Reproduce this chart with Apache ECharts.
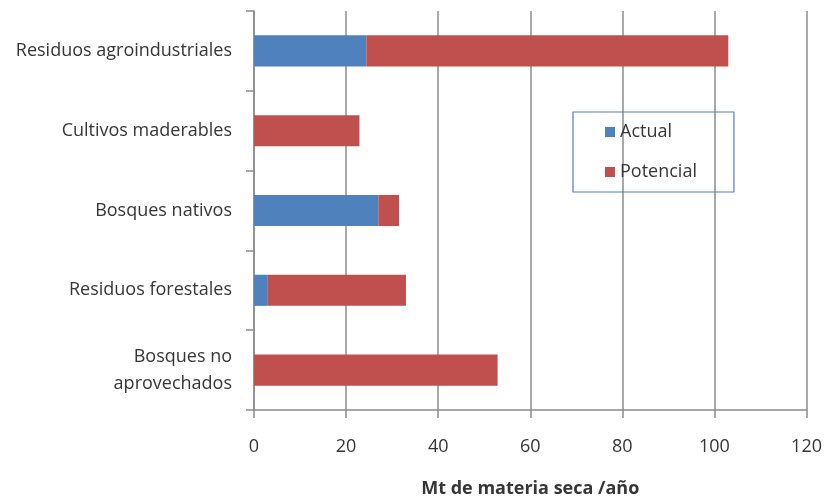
<!DOCTYPE html>
<html>
<head>
<meta charset="utf-8">
<script src="https://cdn.jsdelivr.net/npm/echarts@6/dist/echarts.min.js"></script>
<style>
  html, body { margin: 0; padding: 0; background: #ffffff; }
  #chart { width: 825px; height: 503px; }
</style>
</head>
<body>
<div id="chart"></div>
<script>
// datos (Mt de materia seca / año)
const categorias = [
  'Residuos agroindustriales',
  'Cultivos maderables',
  'Bosques nativos',
  'Residuos forestales',
  'Bosques no\naprovechados'
]
const actual = [24.4, 0, 27.0, 3.0, 0]
const potencial = [78.6, 22.9, 4.5, 30.0, 52.9]
const ejeX = { min: 0, max: 120, interval: 20 }

const fuente = 'Open Sans'
const gris = '#8c8c8c'
const texto = '#363636'

const chart = echarts.init(document.getElementById('chart'))

const option = {
  animation: false,
  textStyle: { fontFamily: fuente },
  grid: { left: 254, right: 15, top: 11, bottom: 92 },
  legend: {
    orient: 'vertical',
    left: 573,
    top: 112,
    borderColor: '#4F81BD',
    borderWidth: 1.2,
    padding: [10, 37, 10, 32],
    itemGap: 20,
    itemWidth: 10,
    itemHeight: 10,
    itemTextGap: 8,
    icon: 'rect',
    textStyle: { fontSize: 18, color: texto, lineHeight: 20, fontFamily: fuente },
    data: ['Actual', 'Potencial']
  },
  xAxis: {
    type: 'value',
    min: ejeX.min,
    max: ejeX.max,
    interval: ejeX.interval,
    name: 'Mt de materia seca /año',
    nameLocation: 'middle',
    nameGap: 70,
    nameTextStyle: { fontSize: 18, fontWeight: 'bold', color: texto },
    axisLine: { show: true, lineStyle: { color: gris, width: 1.5 } },
    axisTick: { show: true, length: 8, lineStyle: { color: gris, width: 1.5 } },
    axisLabel: { fontSize: 18, color: texto, margin: 28 },
    splitLine: { show: true, lineStyle: { color: gris, width: 1.5 } }
  },
  yAxis: {
    type: 'category',
    inverse: true,
    data: categorias,
    axisLine: { show: true, lineStyle: { color: gris, width: 1.5 } },
    axisTick: { show: true, length: 8, lineStyle: { color: gris, width: 1.5 } },
    axisLabel: { fontSize: 18, color: texto, margin: 22, lineHeight: 27, align: 'right' }
  },
  series: [
    {
      name: 'Actual',
      type: 'bar',
      stack: 'total',
      barCategoryGap: '61%',
      itemStyle: { color: '#4F81BD' },
      data: actual
    },
    {
      name: 'Potencial',
      type: 'bar',
      stack: 'total',
      barCategoryGap: '61%',
      itemStyle: { color: '#C0504D' },
      data: potencial
    }
  ]
}

chart.setOption(option)
</script>
</body>
</html>
